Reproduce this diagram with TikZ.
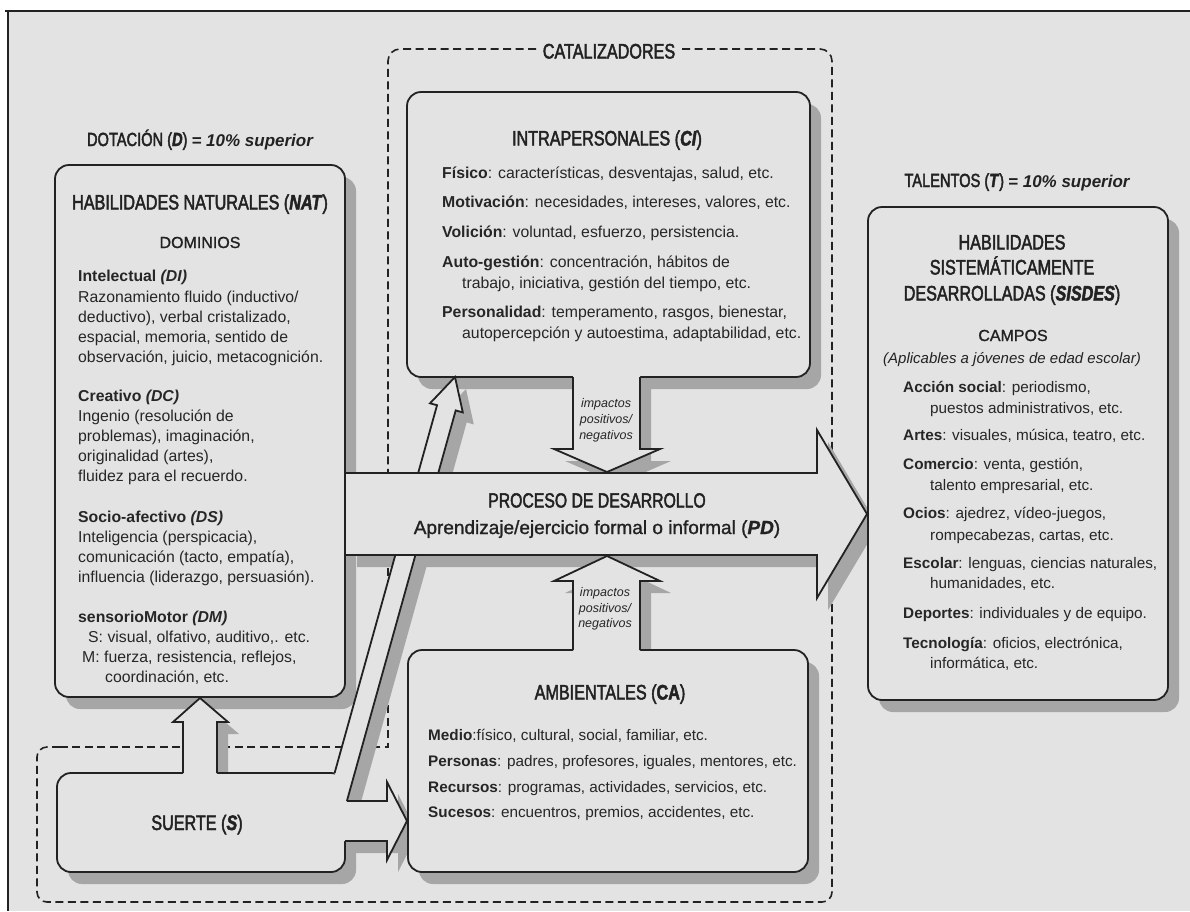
\documentclass[tikz,border=0pt]{standalone}
\usepackage{fontspec}
\setmainfont{Liberation Sans}
\newfontfamily\condfont{Liberation Sans}[FakeStretch=0.77, FakeBold=2.2]
\newfontfamily\medfont{Liberation Sans}[FakeBold=1.2]
\usetikzlibrary{calc}

\definecolor{paper}{RGB}{227,227,227}
\definecolor{shadowgray}{RGB}{166,166,166}
\definecolor{ink}{RGB}{34,34,34}
\definecolor{txtc}{RGB}{38,38,38}

\tikzset{
  outline/.style={draw=ink, line width=1.8pt, line join=miter},
  dashline/.style={draw=ink, line width=1.6pt, dash pattern=on 8pt off 4.5pt},
  txt/.style={anchor=base west, inner sep=0pt, text=txtc, font=\fontsize{15.8}{20}\selectfont},
  txtsm/.style={txt, font=\fontsize{15.3}{20}\selectfont},
  ttl/.style={anchor=base, inner sep=0pt, text=ink, font=\condfont\fontsize{21}{25}\selectfont},
  head/.style={anchor=base, inner sep=0pt, text=ink, font=\medfont\fontsize{16}{20}\selectfont},
  note/.style={anchor=base, inner sep=0pt, text=txtc, font=\itshape\fontsize{12.5}{15}\selectfont},
  % outlines of the panels and the broad arrows
  natshape/.style={insert path={(55,165) rectangle (345,697)}},
  sisshape/.style={insert path={(868,207) rectangle (1168,700)}},
  intrashape/.style={insert path={(407,92) rectangle (810,377)}},
  intraarrow/.style={insert path={(573,375) -- (573,449) -- (554,449) -- (607,472) -- (660,449) -- (640,449) -- (640,375) -- cycle}},
  ambshape/.style={insert path={(408,650) rectangle (808,872)}},
  ambarrow/.style={insert path={(573,652) -- (573,581) -- (554,581) -- (607,556) -- (660,581) -- (640,581) -- (640,652) -- cycle}},
  sueshape/.style={insert path={(57,773) rectangle (345,872)}},
  sueup/.style={insert path={(183,775) -- (183,722) -- (173,722) -- (200,698) -- (228,722) -- (217,722) -- (217,775) -- cycle}},
  suediag/.style={insert path={(334.6,773) -- (437.05,405.2) -- (430,403.3) -- (455,377) -- (462.8,412.4) -- (455.7,410.4) -- (346.9,801) -- (340,803) -- cycle}},
  sueright/.style={insert path={(340,801) -- (387,801) -- (387,782) -- (407,821) -- (387,860) -- (387,841) -- (340,841) -- cycle}},
  pdshape/.style={insert path={(346,473) -- (817,473) -- (817,430) -- (867,514) -- (817,598) -- (817,555) -- (346,555) -- cycle}},
}

\newcommand\bodyline[4]{\node[txt] (#1) at (#2,#3) {#4};}
\newcommand\smallline[4]{\node[txtsm] (#1) at (#2,#3) {#4};}

\begin{document}
\begin{tikzpicture}[x=1pt,y=-1pt]
\useasboundingbox (0,0) rectangle (1190,911);
\fill[white] (0,0) rectangle (1190,911);
\fill[paper] (8,11) rectangle (1190,911);
\draw[ink, line width=2.2pt] (5,11) -- (1190,11);
\draw[ink, line width=2.2pt] (8,11) -- (8,911);

% catalysts region
\draw[dashline, rounded corners=12pt] (536,49) -- (388,49) -- (388,473);
\draw[dashline, rounded corners=12pt] (682,49) -- (832,49) -- (832,473);
\draw[dashline] (388,555) -- (388,747) -- (60,747);
\draw[dashline, rounded corners=10pt] (60,747) -- (37,747) -- (37,902) -- (832,902) -- (832,555);
\node[ttl] (cat) at (609,58.5) {CATALIZADORES};

% drop shadows
\begin{scope}[shift={(11,12)}]
  \fill[shadowgray, rounded corners=14pt, natshape];
  \fill[shadowgray, rounded corners=14pt, sisshape];
  \fill[shadowgray, rounded corners=14pt, intrashape];
  \fill[shadowgray, intraarrow];
  \fill[shadowgray, rounded corners=14pt, ambshape];
  \fill[shadowgray, ambarrow];
  \fill[shadowgray, rounded corners=14pt, sueshape];
  \fill[shadowgray, sueup];
  \fill[shadowgray, suediag];
  \fill[shadowgray, sueright];
  \fill[shadowgray, pdshape];
\end{scope}

% natural abilities
\draw[outline, fill=paper, rounded corners=14pt, natshape];
% developed abilities
\draw[outline, fill=paper, rounded corners=14pt, sisshape];
% intrapersonal catalysts
\draw[outline, fill=paper, rounded corners=14pt, intrashape];
\fill[paper, intraarrow];
\draw[outline] (573,377) -- (573,449) -- (554,449) -- (607,472) -- (660,449) -- (640,449) -- (640,377);
% environmental catalysts
\draw[outline, fill=paper, rounded corners=14pt, ambshape];
\fill[paper, ambarrow];
\draw[outline] (573,650) -- (573,581) -- (554,581) -- (607,556) -- (660,581) -- (640,581) -- (640,650);
% chance
\draw[outline, fill=paper, rounded corners=14pt, sueshape];
\fill[paper, sueup];
\draw[outline] (183,773) -- (183,722) -- (173,722) -- (200,698) -- (228,722) -- (217,722) -- (217,773);
\fill[paper, suediag];
\draw[outline] (334.6,773) -- (437.05,405.2) -- (430,403.3) -- (455,377) -- (462.8,412.4) -- (455.7,410.4) -- (346.9,801);
\fill[paper, sueright];
\draw[outline] (346.9,801) -- (387,801) -- (387,782) -- (407,821) -- (387,860) -- (387,841) -- (345,841);
% developmental process
\fill[paper, pdshape];
\draw[outline] (346,473) -- (817,473) -- (817,430) -- (867,514) -- (817,598) -- (817,555) -- (346,555);

% headings
\node[ttl, font=\condfont\fontsize{19}{23}\selectfont] (dot) at (200,146)
  {DOTACIÓN (\textbf{\textit{D}}) {\normalfont\bfseries\itshape\fontsize{17}{20}\selectfont = 10\% superior}};
\node[ttl] (nat) at (200,209.5) {HABILIDADES NATURALES (\textbf{\textit{NAT}})};
\node[head] (dom) at (200,248) {DOMINIOS};

\node[ttl] (ci) at (607,145.5) {INTRAPERSONALES (\textbf{\textit{CI}})};
\node[ttl] (ca) at (610,699.5) {AMBIENTALES (\textbf{CA})};
\node[ttl] (sue) at (197,830) {SUERTE (\textbf{\textit{S}})};

\node[ttl, font=\condfont\fontsize{20.5}{24}\selectfont] (pd) at (597,507.5) {PROCESO DE DESARROLLO};
\node[head, font=\medfont\fontsize{19}{23}\selectfont] (pd2) at (597,534)
  {Aprendizaje/ejercicio formal o informal (\textbf{\textit{PD}})};

\node[ttl, font=\condfont\fontsize{19}{23}\selectfont] (tal) at (1017,187)
  {TALENTOS (\textbf{\textit{T}}) {\normalfont\bfseries\itshape\fontsize{17}{20}\selectfont = 10\% superior}};
\node[ttl] (sis1) at (1012,249.5) {HABILIDADES};
\node[ttl] (sis2) at (1012,274.5) {SISTEMÁTICAMENTE};
\node[ttl] (sis3) at (1012,300.5) {DESARROLLADAS (\textbf{\textit{SISDES}})};
\node[head] (campos) at (1013,341) {CAMPOS};
\node[head, font=\itshape\fontsize{15}{18}\selectfont] (apl) at (1012,363) {(Aplicables a jóvenes de edad escolar)};

% impact labels
\node[note] (imp1) at (606,407) {impactos};
\node[note] (imp2) at (606,423) {positivos/};
\node[note] (imp3) at (606,439) {negativos};
\node[note] (imp4) at (605,596) {impactos};
\node[note] (imp5) at (605,612) {positivos/};
\node[note] (imp6) at (605,627) {negativos};

% domains
\bodyline{di}{78}{281}{\textbf{Intelectual \textit{(DI)}}}
\bodyline{di1}{78}{302}{Razonamiento fluido (inductivo/}
\bodyline{di2}{78}{322}{deductivo), verbal cristalizado,}
\bodyline{di3}{78}{342}{espacial, memoria, sentido de}
\bodyline{di4}{78}{362}{observación, juicio, metacognición.}
\bodyline{dc}{78}{401}{\textbf{Creativo \textit{(DC)}}}
\bodyline{dc1}{78}{421}{Ingenio (resolución de}
\bodyline{dc2}{78}{441}{problemas), imaginación,}
\bodyline{dc3}{78}{461}{originalidad (artes),}
\bodyline{dc4}{78}{481}{fluidez para el recuerdo.}
\bodyline{ds}{78}{522}{\textbf{Socio-afectivo \textit{(DS)}}}
\bodyline{ds1}{78}{542}{Inteligencia (perspicacia),}
\bodyline{ds2}{78}{562}{comunicación (tacto, empatía),}
\bodyline{ds3}{78}{582}{influencia (liderazgo, persuasión).}
\bodyline{dm}{78}{622}{\textbf{sensorioMotor \textit{(DM)}}}
\bodyline{dm1}{88}{642}{S: visual, olfativo, auditivo,. etc.}
\bodyline{dm2}{82}{662}{M: fuerza, resistencia, reflejos,}
\bodyline{dm3}{105}{682}{coordinación, etc.}

% intrapersonal items
\bodyline{ci1}{442}{178}{\textbf{Físico}: características, desventajas, salud, etc.}
\bodyline{ci2}{442}{207}{\textbf{Motivación}: necesidades, intereses, valores, etc.}
\bodyline{ci3}{442}{237}{\textbf{Volición}: voluntad, esfuerzo, persistencia.}
\bodyline{ci4}{442}{267}{\textbf{Auto-gestión}: concentración, hábitos de}
\bodyline{ci4b}{462}{288}{trabajo, iniciativa, gestión del tiempo, etc.}
\bodyline{ci5}{442}{317}{\textbf{Personalidad}: temperamento, rasgos, bienestar,}
\bodyline{ci5b}{462}{338}{autopercepción y autoestima, adaptabilidad, etc.}

% environmental items
\smallline{ca1}{428}{740}{\textbf{Medio}:físico, cultural, social, familiar, etc.}
\smallline{ca2}{428}{766}{\textbf{Personas}: padres, profesores, iguales, mentores, etc.}
\smallline{ca3}{428}{792}{\textbf{Recursos}: programas, actividades, servicios, etc.}
\smallline{ca4}{428}{817}{\textbf{Sucesos}: encuentros, premios, accidentes, etc.}

% fields
\smallline{f1}{903}{392}{\textbf{Acción social}: periodismo,}
\smallline{f1b}{930}{413}{puestos administrativos, etc.}
\smallline{f2}{903}{440}{\textbf{Artes}: visuales, música, teatro, etc.}
\smallline{f3}{903}{469}{\textbf{Comercio}: venta, gestión,}
\smallline{f3b}{930}{490}{talento empresarial, etc.}
\smallline{f4}{903}{518}{\textbf{Ocios}: ajedrez, vídeo-juegos,}
\smallline{f4b}{930}{540}{rompecabezas, cartas, etc.}
\smallline{f5}{903}{568}{\textbf{Escolar}: lenguas, ciencias naturales,}
\smallline{f5b}{930}{588}{humanidades, etc.}
\smallline{f6}{903}{618}{\textbf{Deportes}: individuales y de equipo.}
\smallline{f7}{903}{648}{\textbf{Tecnología}: oficios, electrónica,}
\smallline{f7b}{930}{668}{informática, etc.}
\end{tikzpicture}
\end{document}
